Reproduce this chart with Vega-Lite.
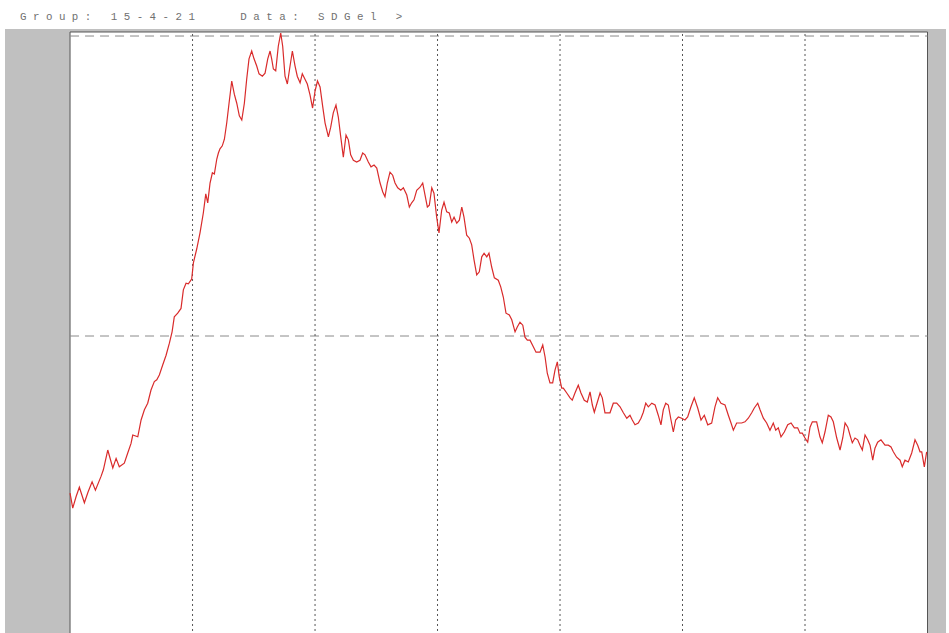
{
  "$schema": "https://vega.github.io/schema/vega-lite/v6.json",
  "width": 941,
  "height": 604,
  "autosize": "none",
  "padding": {"left": 5, "top": 29, "right": 3, "bottom": 0},
  "background": "white",
  "config": {"view": {"fill": "#c0c0c0", "stroke": null}},
  "title": {
    "text": "G\u00a0r\u00a0o\u00a0u\u00a0p\u00a0:\u00a0\u00a0\u00a01\u00a05\u00a0-\u00a04\u00a0-\u00a02\u00a01\u00a0\u00a0\u00a0\u00a0\u00a0\u00a0\u00a0D\u00a0a\u00a0t\u00a0a\u00a0:\u00a0\u00a0\u00a0S\u00a0D\u00a0G\u00a0e\u00a0l\u00a0\u00a0\u00a0>",
    "anchor": "start",
    "frame": "group",
    "font": "Liberation Mono",
    "fontSize": 10.8,
    "fontWeight": "normal",
    "color": "#707070",
    "baseline": "alphabetic",
    "offset": 11,
    "dx": 15,
    "dy": 13
  },
  "datasets": {
    "profile": [
      {"pos": 0, "signal": 0.238}, {"pos": 2.2, "signal": 0.213}, {"pos": 4.9, "signal": 0.232}, {"pos": 7.6, "signal": 0.248},
      {"pos": 11.7, "signal": 0.222}, {"pos": 14.7, "signal": 0.24}, {"pos": 18.0, "signal": 0.257}, {"pos": 20.7, "signal": 0.243},
      {"pos": 25.3, "signal": 0.266}, {"pos": 27.2, "signal": 0.277}, {"pos": 30.8, "signal": 0.31}, {"pos": 34.9, "signal": 0.28},
      {"pos": 37.6, "signal": 0.296}, {"pos": 40.2, "signal": 0.282}, {"pos": 44.3, "signal": 0.288}, {"pos": 47.1, "signal": 0.305},
      {"pos": 49.8, "signal": 0.321}, {"pos": 51.2, "signal": 0.335}, {"pos": 55.3, "signal": 0.332}, {"pos": 58.0, "signal": 0.36},
      {"pos": 60.7, "signal": 0.377}, {"pos": 63.4, "signal": 0.388}, {"pos": 66.1, "signal": 0.41}, {"pos": 68.8, "signal": 0.424},
      {"pos": 70.8, "signal": 0.427}, {"pos": 72.9, "signal": 0.435}, {"pos": 75.7, "signal": 0.452}, {"pos": 78.4, "signal": 0.468},
      {"pos": 81.1, "signal": 0.488}, {"pos": 83.3, "signal": 0.507}, {"pos": 85.1, "signal": 0.532}, {"pos": 87.9, "signal": 0.538},
      {"pos": 90.6, "signal": 0.546}, {"pos": 92.5, "signal": 0.577}, {"pos": 94.7, "signal": 0.588}, {"pos": 96.6, "signal": 0.587},
      {"pos": 99.3, "signal": 0.595}, {"pos": 100.7, "signal": 0.622}, {"pos": 103.4, "signal": 0.645}, {"pos": 106.1, "signal": 0.672},
      {"pos": 108.8, "signal": 0.705}, {"pos": 110.8, "signal": 0.737}, {"pos": 112.4, "signal": 0.722}, {"pos": 114.3, "signal": 0.755},
      {"pos": 116.2, "signal": 0.772}, {"pos": 117.8, "signal": 0.77}, {"pos": 119.8, "signal": 0.795}, {"pos": 121.1, "signal": 0.805},
      {"pos": 122.4, "signal": 0.812}, {"pos": 124.3, "signal": 0.817}, {"pos": 126.0, "signal": 0.828}, {"pos": 127.9, "signal": 0.855},
      {"pos": 129.8, "signal": 0.888}, {"pos": 132.0, "signal": 0.925}, {"pos": 134.1, "signal": 0.903}, {"pos": 136.1, "signal": 0.888},
      {"pos": 138.2, "signal": 0.867}, {"pos": 140.2, "signal": 0.86}, {"pos": 142.3, "signal": 0.888}, {"pos": 144.2, "signal": 0.928},
      {"pos": 146.1, "signal": 0.962}, {"pos": 148.3, "signal": 0.975}, {"pos": 150.2, "signal": 0.962}, {"pos": 152.4, "signal": 0.95},
      {"pos": 154.3, "signal": 0.937}, {"pos": 157.0, "signal": 0.933}, {"pos": 159.2, "signal": 0.938}, {"pos": 161.4, "signal": 0.962},
      {"pos": 163.3, "signal": 0.975}, {"pos": 164.6, "signal": 0.962}, {"pos": 166.0, "signal": 0.945}, {"pos": 167.9, "signal": 0.942},
      {"pos": 170.0, "signal": 0.983}, {"pos": 172.0, "signal": 1.005}, {"pos": 173.6, "signal": 0.983}, {"pos": 175.5, "signal": 0.933},
      {"pos": 177.4, "signal": 0.92}, {"pos": 179.6, "signal": 0.95}, {"pos": 181.5, "signal": 0.975}, {"pos": 183.7, "signal": 0.95},
      {"pos": 185.5, "signal": 0.933}, {"pos": 187.8, "signal": 0.922}, {"pos": 189.6, "signal": 0.937}, {"pos": 191.8, "signal": 0.928},
      {"pos": 193.7, "signal": 0.92}, {"pos": 195.9, "signal": 0.902}, {"pos": 198.0, "signal": 0.88}, {"pos": 200.0, "signal": 0.908},
      {"pos": 202.0, "signal": 0.925}, {"pos": 204.1, "signal": 0.915}, {"pos": 206.3, "signal": 0.882}, {"pos": 208.2, "signal": 0.855},
      {"pos": 210.9, "signal": 0.832}, {"pos": 212.8, "signal": 0.848}, {"pos": 214.9, "signal": 0.872}, {"pos": 217.1, "signal": 0.885},
      {"pos": 219.0, "signal": 0.865}, {"pos": 221.0, "signal": 0.832}, {"pos": 223.1, "signal": 0.798}, {"pos": 225.3, "signal": 0.835},
      {"pos": 227.2, "signal": 0.827}, {"pos": 229.1, "signal": 0.802}, {"pos": 231.3, "signal": 0.793}, {"pos": 234.0, "signal": 0.79},
      {"pos": 236.7, "signal": 0.793}, {"pos": 238.9, "signal": 0.805}, {"pos": 240.8, "signal": 0.802}, {"pos": 243.5, "signal": 0.79},
      {"pos": 245.7, "signal": 0.782}, {"pos": 248.2, "signal": 0.785}, {"pos": 250.4, "signal": 0.78}, {"pos": 253.1, "signal": 0.755},
      {"pos": 255.3, "signal": 0.74}, {"pos": 257.1, "signal": 0.732}, {"pos": 259.0, "signal": 0.755}, {"pos": 261.2, "signal": 0.773},
      {"pos": 263.4, "signal": 0.768}, {"pos": 265.3, "signal": 0.755}, {"pos": 267.5, "signal": 0.747}, {"pos": 270.0, "signal": 0.743},
      {"pos": 272.1, "signal": 0.747}, {"pos": 274.9, "signal": 0.735}, {"pos": 277.0, "signal": 0.715}, {"pos": 278.9, "signal": 0.722},
      {"pos": 280.8, "signal": 0.727}, {"pos": 283.0, "signal": 0.743}, {"pos": 285.7, "signal": 0.748}, {"pos": 287.9, "signal": 0.755},
      {"pos": 289.8, "signal": 0.735}, {"pos": 291.7, "signal": 0.715}, {"pos": 293.3, "signal": 0.718}, {"pos": 295.3, "signal": 0.747},
      {"pos": 297.1, "signal": 0.738}, {"pos": 299.3, "signal": 0.698}, {"pos": 301.2, "signal": 0.672}, {"pos": 303.4, "signal": 0.71},
      {"pos": 305.3, "signal": 0.723}, {"pos": 307.5, "signal": 0.707}, {"pos": 309.6, "signal": 0.705}, {"pos": 311.6, "signal": 0.69},
      {"pos": 313.5, "signal": 0.698}, {"pos": 315.7, "signal": 0.688}, {"pos": 317.8, "signal": 0.693}, {"pos": 319.8, "signal": 0.715},
      {"pos": 321.6, "signal": 0.698}, {"pos": 323.8, "signal": 0.668}, {"pos": 326.0, "signal": 0.663}, {"pos": 327.9, "signal": 0.652},
      {"pos": 329.8, "signal": 0.627}, {"pos": 332.0, "signal": 0.602}, {"pos": 334.1, "signal": 0.607}, {"pos": 336.1, "signal": 0.632},
      {"pos": 338.0, "signal": 0.638}, {"pos": 340.2, "signal": 0.632}, {"pos": 342.0, "signal": 0.638}, {"pos": 344.2, "signal": 0.615},
      {"pos": 346.4, "signal": 0.597}, {"pos": 349.6, "signal": 0.593}, {"pos": 351.6, "signal": 0.582}, {"pos": 353.7, "signal": 0.565},
      {"pos": 355.9, "signal": 0.538}, {"pos": 358.6, "signal": 0.535}, {"pos": 360.6, "signal": 0.527}, {"pos": 363.3, "signal": 0.507},
      {"pos": 365.1, "signal": 0.515}, {"pos": 367.3, "signal": 0.523}, {"pos": 369.6, "signal": 0.518}, {"pos": 371.4, "signal": 0.498},
      {"pos": 373.3, "signal": 0.493}, {"pos": 375.5, "signal": 0.493}, {"pos": 378.2, "signal": 0.482}, {"pos": 380.4, "signal": 0.473},
      {"pos": 383.7, "signal": 0.473}, {"pos": 385.9, "signal": 0.485}, {"pos": 387.8, "signal": 0.465}, {"pos": 389.6, "signal": 0.438},
      {"pos": 391.8, "signal": 0.422}, {"pos": 394.0, "signal": 0.422}, {"pos": 395.9, "signal": 0.443}, {"pos": 397.8, "signal": 0.457},
      {"pos": 399.4, "signal": 0.432}, {"pos": 401.4, "signal": 0.413}, {"pos": 402.7, "signal": 0.413}, {"pos": 405.5, "signal": 0.405},
      {"pos": 408.2, "signal": 0.397}, {"pos": 410.0, "signal": 0.393}, {"pos": 412.2, "signal": 0.405}, {"pos": 414.9, "signal": 0.418},
      {"pos": 417.1, "signal": 0.405}, {"pos": 419.8, "signal": 0.393}, {"pos": 422.3, "signal": 0.39}, {"pos": 424.5, "signal": 0.407},
      {"pos": 426.4, "signal": 0.385}, {"pos": 428.0, "signal": 0.373}, {"pos": 430.2, "signal": 0.388}, {"pos": 432.7, "signal": 0.405},
      {"pos": 434.5, "signal": 0.397}, {"pos": 436.7, "signal": 0.372}, {"pos": 440.8, "signal": 0.372}, {"pos": 443.5, "signal": 0.388},
      {"pos": 446.3, "signal": 0.388}, {"pos": 449.0, "signal": 0.382}, {"pos": 451.7, "signal": 0.372}, {"pos": 454.5, "signal": 0.363},
      {"pos": 457.1, "signal": 0.368}, {"pos": 459.0, "signal": 0.36}, {"pos": 461.2, "signal": 0.352}, {"pos": 463.9, "signal": 0.355},
      {"pos": 466.1, "signal": 0.363}, {"pos": 468.0, "signal": 0.373}, {"pos": 470.0, "signal": 0.388}, {"pos": 472.1, "signal": 0.382},
      {"pos": 474.9, "signal": 0.388}, {"pos": 477.6, "signal": 0.385}, {"pos": 480.2, "signal": 0.368}, {"pos": 482.4, "signal": 0.352},
      {"pos": 484.3, "signal": 0.377}, {"pos": 486.3, "signal": 0.388}, {"pos": 488.4, "signal": 0.385}, {"pos": 490.6, "signal": 0.36},
      {"pos": 492.5, "signal": 0.34}, {"pos": 494.4, "signal": 0.36}, {"pos": 496.6, "signal": 0.365}, {"pos": 499.3, "signal": 0.363},
      {"pos": 502.0, "signal": 0.36}, {"pos": 504.2, "signal": 0.365}, {"pos": 506.9, "signal": 0.382}, {"pos": 509.6, "signal": 0.397},
      {"pos": 512.4, "signal": 0.38}, {"pos": 515.1, "signal": 0.36}, {"pos": 517.8, "signal": 0.368}, {"pos": 520.6, "signal": 0.352},
      {"pos": 523.8, "signal": 0.355}, {"pos": 526.5, "signal": 0.382}, {"pos": 528.7, "signal": 0.397}, {"pos": 531.4, "signal": 0.388},
      {"pos": 534.7, "signal": 0.385}, {"pos": 537.4, "signal": 0.368}, {"pos": 539.6, "signal": 0.355}, {"pos": 541.5, "signal": 0.343},
      {"pos": 544.2, "signal": 0.355}, {"pos": 548.3, "signal": 0.355}, {"pos": 551.0, "signal": 0.357}, {"pos": 553.7, "signal": 0.363},
      {"pos": 556.5, "signal": 0.372}, {"pos": 558.6, "signal": 0.38}, {"pos": 561.4, "signal": 0.388}, {"pos": 563.3, "signal": 0.377},
      {"pos": 566.0, "signal": 0.363}, {"pos": 568.7, "signal": 0.355}, {"pos": 571.4, "signal": 0.343}, {"pos": 574.1, "signal": 0.355},
      {"pos": 576.1, "signal": 0.343}, {"pos": 578.2, "signal": 0.347}, {"pos": 580.4, "signal": 0.332}, {"pos": 583.1, "signal": 0.34},
      {"pos": 585.9, "signal": 0.352}, {"pos": 588.6, "signal": 0.355}, {"pos": 591.3, "signal": 0.347}, {"pos": 594.0, "signal": 0.347},
      {"pos": 595.9, "signal": 0.338}, {"pos": 597.8, "signal": 0.338}, {"pos": 600.0, "signal": 0.33}, {"pos": 602.2, "signal": 0.323},
      {"pos": 604.1, "signal": 0.348}, {"pos": 606.0, "signal": 0.357}, {"pos": 609.5, "signal": 0.357}, {"pos": 612.2, "signal": 0.332},
      {"pos": 614.1, "signal": 0.322}, {"pos": 616.3, "signal": 0.34}, {"pos": 619.0, "signal": 0.368}, {"pos": 621.2, "signal": 0.365},
      {"pos": 623.1, "signal": 0.357}, {"pos": 625.9, "signal": 0.33}, {"pos": 628.6, "signal": 0.31}, {"pos": 630.8, "signal": 0.33},
      {"pos": 632.7, "signal": 0.355}, {"pos": 634.9, "signal": 0.348}, {"pos": 636.7, "signal": 0.335}, {"pos": 638.6, "signal": 0.322},
      {"pos": 640.8, "signal": 0.33}, {"pos": 643.0, "signal": 0.327}, {"pos": 644.9, "signal": 0.318}, {"pos": 646.8, "signal": 0.31},
      {"pos": 649.0, "signal": 0.335}, {"pos": 651.2, "signal": 0.327}, {"pos": 653.1, "signal": 0.318}, {"pos": 655.3, "signal": 0.293},
      {"pos": 657.1, "signal": 0.313}, {"pos": 659.3, "signal": 0.323}, {"pos": 662.0, "signal": 0.327}, {"pos": 665.3, "signal": 0.318},
      {"pos": 668.0, "signal": 0.318}, {"pos": 670.2, "signal": 0.315}, {"pos": 672.1, "signal": 0.307}, {"pos": 674.8, "signal": 0.298},
      {"pos": 677.6, "signal": 0.293}, {"pos": 679.4, "signal": 0.282}, {"pos": 681.6, "signal": 0.293}, {"pos": 684.3, "signal": 0.29},
      {"pos": 687.1, "signal": 0.305}, {"pos": 689.8, "signal": 0.327}, {"pos": 692.0, "signal": 0.318}, {"pos": 693.9, "signal": 0.307},
      {"pos": 695.3, "signal": 0.307}, {"pos": 697.4, "signal": 0.282}, {"pos": 699.3, "signal": 0.307}
    ]
  },
  "layer": [
    {
      "description": "white plotting field inside the grey frame",
      "data": {"values": [{"x0": 0, "x1": 700, "y0": 0, "y1": 1.0067}]},
      "mark": {"type": "rect", "fill": "white", "stroke": "#555555", "strokeWidth": 1},
      "encoding": {
        "x": {"field": "x0", "type": "quantitative", "scale": {"domain": [-53.1, 715.1], "nice": false, "zero": false}, "axis": null},
        "x2": {"field": "x1"},
        "y": {
          "field": "y0", "type": "quantitative",
          "scale": {"domain": [0.005, 1.0117], "nice": false, "zero": false},
          "axis": {
            "title": null,
            "orient": "left",
            "offset": -65,
            "zindex": 2,
            "grid": false,
            "values": [0.05, 0.1, 0.15, 0.2, 0.25, 0.3, 0.35, 0.4, 0.45, 0.5, 0.55, 0.6, 0.65, 0.7, 0.75, 0.8, 0.85, 0.9, 0.95, 1.0],
            "domainColor": "#222222",
            "domainWidth": 1.5,
            "tickColor": "#444444",
            "tickWidth": 1,
            "tickSize": {"condition": {"test": "datum.value == 0.5 || datum.value == 1", "value": 13}, "value": 5},
            "labelExpr": "datum.value == 1 ? '1.00' : datum.value == 0.5 ? '0.50' : ''",
            "labelFont": "DejaVu Sans",
            "labelFontSize": 5,
            "labelColor": "#888888",
            "labelPadding": 1
          }
        },
        "y2": {"field": "y1"}
      }
    },
    {
      "description": "dashed reference levels",
      "data": {"values": [{"lvl": 0.5, "a": 0, "b": 700}, {"lvl": 1.0, "a": 0, "b": 700}]},
      "mark": {"type": "rule", "color": "#8a8a8a", "strokeWidth": 1, "strokeDash": [9, 6]},
      "encoding": {
        "x": {"field": "a", "type": "quantitative", "scale": {"domain": [-53.1, 715.1], "nice": false, "zero": false}, "axis": null},
        "x2": {"field": "b"},
        "y": {"field": "lvl", "type": "quantitative", "scale": {"domain": [0.005, 1.0117], "nice": false, "zero": false}, "axis": null}
      }
    },
    {
      "description": "dotted lane divisions",
      "data": {"values": [
        {"g": 100, "lo": 0, "hi": 1.0067}, {"g": 200, "lo": 0, "hi": 1.0067}, {"g": 300, "lo": 0, "hi": 1.0067},
        {"g": 400, "lo": 0, "hi": 1.0067}, {"g": 500, "lo": 0, "hi": 1.0067}, {"g": 600, "lo": 0, "hi": 1.0067}
      ]},
      "mark": {"type": "rule", "color": "#555555", "strokeWidth": 1, "strokeDash": [2, 3]},
      "encoding": {
        "x": {"field": "g", "type": "quantitative", "scale": {"domain": [-53.1, 715.1], "nice": false, "zero": false}, "axis": null},
        "y": {"field": "lo", "type": "quantitative", "scale": {"domain": [0.005, 1.0117], "nice": false, "zero": false}, "axis": null},
        "y2": {"field": "hi"}
      }
    },
    {
      "description": "densitometric profile",
      "data": {"name": "profile"},
      "mark": {"type": "line", "color": "#d92b2b", "strokeWidth": 1.2},
      "encoding": {
        "x": {"field": "pos", "type": "quantitative", "scale": {"domain": [-53.1, 715.1], "nice": false, "zero": false}, "axis": null},
        "y": {"field": "signal", "type": "quantitative", "scale": {"domain": [0.005, 1.0117], "nice": false, "zero": false}, "axis": null}
      }
    }
  ]
}
